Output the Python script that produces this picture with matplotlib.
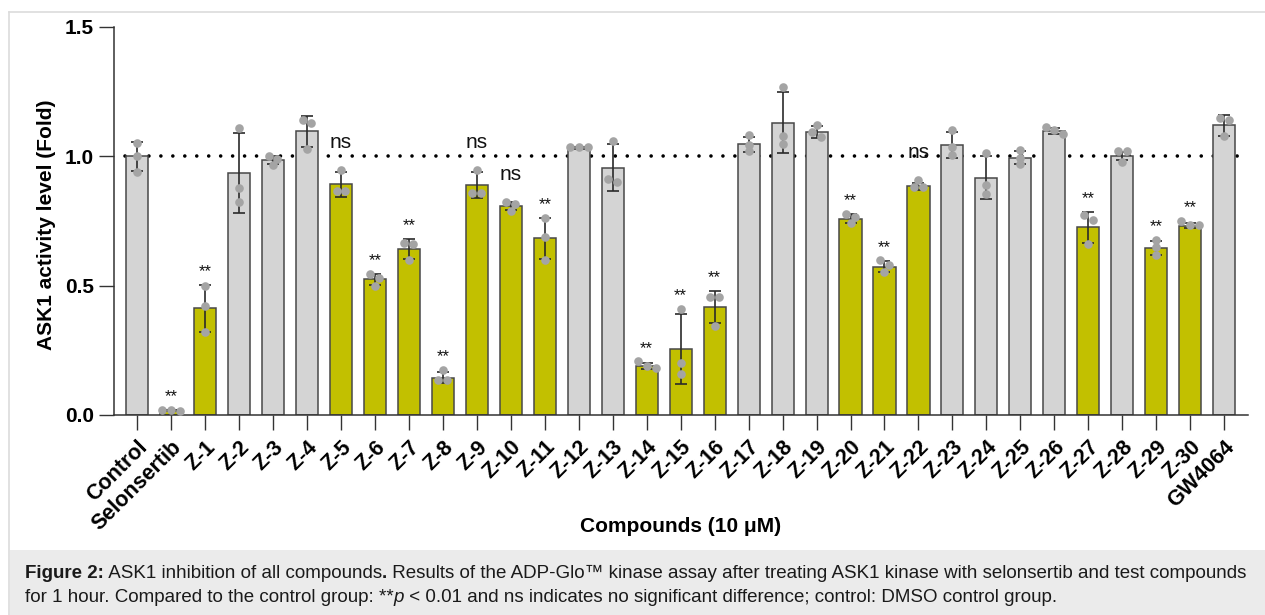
import matplotlib
matplotlib.use("Agg")
import matplotlib.pyplot as plt
import numpy as np

# ---------------- data ----------------
categories = ["Control", "Selonsertib"] + [f"Z-{i}" for i in range(1, 31)] + ["GW4064"]

means = [1.00, 0.018, 0.412, 0.936, 0.985, 1.097, 0.892, 0.524, 0.642, 0.144,
         0.888, 0.808, 0.683, 1.033, 0.956, 0.190, 0.256, 0.417, 1.046, 1.130,
         1.094, 0.759, 0.573, 0.884, 1.045, 0.918, 0.995, 1.099, 0.725, 1.002,
         0.646, 0.732, 1.120]

sds = [0.055, 0.003, 0.090, 0.155, 0.015, 0.060, 0.048, 0.020, 0.040, 0.022,
       0.050, 0.015, 0.080, 0.003, 0.090, 0.012, 0.135, 0.063, 0.030, 0.118,
       0.023, 0.018, 0.022, 0.013, 0.050, 0.082, 0.026, 0.012, 0.060, 0.015,
       0.028, 0.010, 0.040]

replicates = [
    [1.05, 1.00, 0.94], [0.015, 0.020, 0.020], [0.50, 0.42, 0.32], [1.109, 0.878, 0.824],
    [1.00, 0.99, 0.965], [1.14, 1.13, 1.03], [0.946, 0.865, 0.865], [0.547, 0.53, 0.50],
    [0.665, 0.66, 0.598], [0.174, 0.135, 0.135], [0.946, 0.86, 0.86], [0.824, 0.815, 0.788],
    [0.76, 0.69, 0.60], [1.035, 1.035, 1.035], [1.06, 0.914, 0.90], [0.208, 0.19, 0.18],
    [0.41, 0.20, 0.16], [0.457, 0.457, 0.345], [1.081, 1.042, 1.02], [1.268, 1.08, 1.049],
    [1.12, 1.094, 1.075], [0.778, 0.765, 0.742], [0.598, 0.58, 0.553], [0.907, 0.88, 0.88],
    [1.10, 1.036, 1.004], [1.013, 0.888, 0.856], [1.023, 0.995, 0.972], [1.113, 1.10, 1.087],
    [0.772, 0.753, 0.663], [1.02, 1.02, 0.978], [0.676, 0.65, 0.618], [0.75, 0.735, 0.735],
    [1.15, 1.139, 1.077],
]

significance = ["", "**", "**", "", "", "", "ns", "**", "**", "**",
                "ns", "ns", "**", "", "", "**", "**", "**", "", "",
                "", "**", "**", "ns", "", "", "", "", "**", "",
                "**", "**", ""]

control_level = 1.0
yticks = [0.0, 0.5, 1.0, 1.5]
ytick_labels = ["0.0", "0.5", "1.0", "1.5"]

# ---------------- style ----------------
GRAY = "#d4d4d4"
OLIVE = "#c2c000"
EDGE = "#484848"
DOT = "#a4a4a4"
FONT = "Liberation Sans"

plt.rcParams["font.family"] = [FONT, "DejaVu Sans"]
plt.rcParams["lines.scale_dashes"] = False

fig = plt.figure(figsize=(12.65, 6.15), dpi=100)
W, H = 1265, 615

# frame & caption background
fig.patches.append(plt.Rectangle((10 / W, 0), 1 - 10 / W, 65 / H, transform=fig.transFigure,
                                 facecolor="#ebebeb", edgecolor="none", zorder=0))
fig.lines.append(plt.Line2D([9 / W, 1], [1 - 12 / H, 1 - 12 / H], transform=fig.transFigure,
                            color="#dcdcdc", lw=1.2))
fig.lines.append(plt.Line2D([9 / W, 9 / W], [0, 1 - 12 / H], transform=fig.transFigure,
                            color="#dcdcdc", lw=1.2))

ax = fig.add_axes([114 / W, 1 - 415 / H, (1248 - 114) / W, (415 - 27) / H])

n = len(categories)
x = np.arange(n)
colors = [OLIVE if s else GRAY for s in significance]

ax.plot([-0.35, n - 1 + 0.55], [control_level, control_level], color="black", lw=2.6,
        linestyle=(0, (0.01, 8.6)), dash_capstyle="round", zorder=1, clip_on=False)

ax.bar(x, means, width=0.65, color=colors, edgecolor=EDGE, linewidth=1.1, zorder=2)
ax.errorbar(x, means, yerr=sds, fmt="none", ecolor="#2a2a2a", elinewidth=1.2,
            capsize=4, capthick=1.2, zorder=3, clip_on=False)


def swarm_offsets(vals, tol=0.021, step=0.26):
    order = np.argsort(vals)[::-1]
    offs = np.zeros(len(vals))
    clusters = []
    cur = [order[0]]
    for k in order[1:]:
        if abs(vals[cur[-1]] - vals[k]) < tol:
            cur.append(k)
        else:
            clusters.append(cur)
            cur = [k]
    clusters.append(cur)
    for c in clusters:
        m = len(c)
        for j, k in enumerate(c):
            offs[k] = (j - (m - 1) / 2) * step
    return offs


for i, pts in enumerate(replicates):
    pts = np.array(pts)
    offs = swarm_offsets(pts)
    ax.plot(x[i] + offs, pts, "o", color=DOT, markersize=6.2, markeredgewidth=0,
            zorder=4, clip_on=False)

for i, s in enumerate(significance):
    if not s:
        continue
    top = max(means[i] + sds[i], max(replicates[i]))
    if s == "**":
        ax.annotate(s, (x[i], top), xytext=(0, 4), textcoords="offset points",
                    ha="center", va="bottom", fontsize=12, color="#111111")
    else:
        ax.annotate(s, (x[i], top), xytext=(0, 13), textcoords="offset points",
                    ha="center", va="bottom", fontsize=15, color="#111111")

ax.set_xlim(-0.68, n - 1 + 0.7)
ax.set_ylim(0, 1.5)
ax.set_yticks(yticks)
ax.set_yticklabels(ytick_labels, fontsize=15, fontweight="bold")
ax.set_xticks(x)
ax.set_xticklabels(categories, rotation=45, ha="right", rotation_mode="anchor",
                   fontsize=15.5, fontweight="bold")
for sp in ["top", "right"]:
    ax.spines[sp].set_visible(False)
for sp in ["left", "bottom"]:
    ax.spines[sp].set_linewidth(1.1)
    ax.spines[sp].set_color("#333333")
ax.tick_params(axis="both", length=10.5, width=1.0, color="#333333", pad=4)
ax.tick_params(axis="x", pad=5)
ax.set_ylabel("ASK1 activity level (Fold)", fontsize=15, fontweight="bold")
ax.set_xlabel("Compounds (10 μM)", fontsize=15, fontweight="bold")
ax.yaxis.set_label_coords(-67 / 1134, 0.49)
ax.yaxis.label.set_va("center")
ax.xaxis.set_label_coords(0.5, -111 / 388)
ax.xaxis.label.set_va("center")
ax.patch.set_alpha(0)

# ---------------- caption ----------------
fig.canvas.draw()
renderer = fig.canvas.get_renderer()


def draw_runs(runs, x0_px, y_px, size=13.47):
    xp = x0_px
    for txt, kw in runs:
        t = fig.text(xp / W, 1 - y_px / H, txt, fontsize=size, va="center", ha="left",
                     color="#1a1a1a", **kw)
        bb = t.get_window_extent(renderer=renderer)
        xp += bb.width


line1 = [("Figure 2:", {"fontweight": "bold"}),
         (" ASK1 inhibition of all compounds", {}),
         (".", {"fontweight": "bold"}),
         (" Results of the ADP-Glo\u2122 kinase assay after treating ASK1 kinase with selonsertib and test compounds", {})]
line2 = [("for 1 hour. Compared to the control group: **", {}),
         ("p", {"fontstyle": "italic"}),
         (" < 0.01 and ns indicates no significant difference; control: DMSO control group.", {})]
draw_runs(line1, 25, 573)
draw_runs(line2, 25, 597)

fig.savefig("out.png", dpi=100)
